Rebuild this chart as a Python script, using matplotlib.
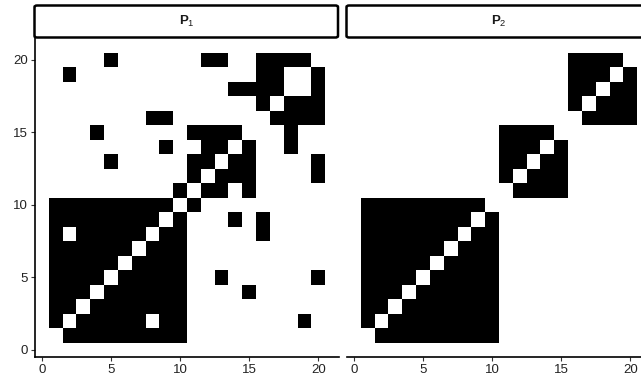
import numpy as np
import matplotlib
matplotlib.use("Agg")
import matplotlib.pyplot as plt
from matplotlib.patches import FancyBboxPatch
from matplotlib.colors import ListedColormap

plt.rcParams["font.family"] = ["Liberation Sans", "DejaVu Sans"]
plt.rcParams["mathtext.fontset"] = "custom"
plt.rcParams["mathtext.rm"] = "Liberation Sans"
plt.rcParams["mathtext.bf"] = "Liberation Sans:bold"

n_nodes = 20

# P1: for each node (row 1..20), the nodes it is linked to
p1_links = [
    [2, 3, 4, 5, 6, 7, 8, 9, 10],
    [1, 3, 4, 5, 6, 7, 9, 10, 19],
    [1, 2, 4, 5, 6, 7, 8, 9, 10],
    [1, 2, 3, 5, 6, 7, 8, 9, 10, 15],
    [1, 2, 3, 4, 6, 7, 8, 9, 10, 13, 20],
    [1, 2, 3, 4, 5, 7, 8, 9, 10],
    [1, 2, 3, 4, 5, 6, 8, 9, 10],
    [1, 3, 4, 5, 6, 7, 9, 10, 16],
    [1, 2, 3, 4, 5, 6, 7, 8, 10, 14, 16],
    [1, 2, 3, 4, 5, 6, 7, 8, 9, 11],
    [10, 12, 13, 15],
    [11, 13, 14, 15, 20],
    [5, 11, 12, 14, 15, 20],
    [9, 12, 13, 15, 18],
    [4, 11, 12, 13, 14, 18],
    [8, 9, 17, 18, 19, 20],
    [16, 18, 19, 20],
    [14, 15, 16, 17, 20],
    [2, 16, 17, 20],
    [5, 12, 13, 16, 17, 18, 19],
]

# P2: block structure (first node, last node) of fully linked groups
p2_blocks = [(1, 10), (11, 15), (16, 20)]

panel_titles = [r"$\mathbf{P}_\mathrm{1}$", r"$\mathbf{P}_\mathrm{2}$"]
tick_values = [0, 5, 10, 15, 20]

# build adjacency matrices
p1 = np.zeros((n_nodes, n_nodes))
for i, links in enumerate(p1_links):
    for j in links:
        p1[i, j - 1] = 1

p2 = np.zeros((n_nodes, n_nodes))
for a, b in p2_blocks:
    p2[a - 1:b, a - 1:b] = 1
np.fill_diagonal(p2, 0)

W, H = 641, 379
fig = plt.figure(figsize=(W / 100, H / 100), dpi=100)

panel_w = 304
panel_left = [35, 347]
panel_top, panel_bottom = 38, 357
cmap = ListedColormap(["white", "black"])
edges = np.arange(0.5, n_nodes + 1.5)

for k, (mat, title) in enumerate(zip([p1, p2], panel_titles)):
    ax = fig.add_axes([panel_left[k] / W, (H - panel_bottom) / H,
                       panel_w / W, (panel_bottom - panel_top) / H])
    ax.pcolormesh(edges, edges, mat, cmap=cmap, vmin=0, vmax=1,
                  edgecolors="none", antialiased=True)
    ax.set_xlim(-0.5, 21.5)
    ax.set_ylim(-0.5, 21.5)
    ax.set_xticks(tick_values)
    ax.set_yticks(tick_values)
    for s in ["top", "right"]:
        ax.spines[s].set_visible(False)
    ax.spines["bottom"].set_linewidth(1.2)
    if k == 0:
        ax.spines["left"].set_linewidth(1.2)
    else:
        ax.spines["left"].set_visible(False)
        ax.tick_params(axis="y", left=False, labelleft=False)
    ax.tick_params(length=3, width=0.8, color="#333333",
                   labelsize=9.5, labelcolor="#222222", pad=2)

    # facet strip
    strip = FancyBboxPatch(((panel_left[k] - 0.5) / W, (H - 37.5) / H),
                           (panel_w - 0.5) / W, 32 / H,
                           boxstyle="round,pad=0,rounding_size=0.004",
                           transform=fig.transFigure, facecolor="white",
                           edgecolor="black", linewidth=1.8, clip_on=False)
    fig.patches.append(strip)
    fig.text((panel_left[k] + panel_w / 2) / W, (H - 21.5) / H, title,
             ha="center", va="center", fontsize=9.5, color="#1a1a1a")

fig.savefig("out.png", dpi=100)
